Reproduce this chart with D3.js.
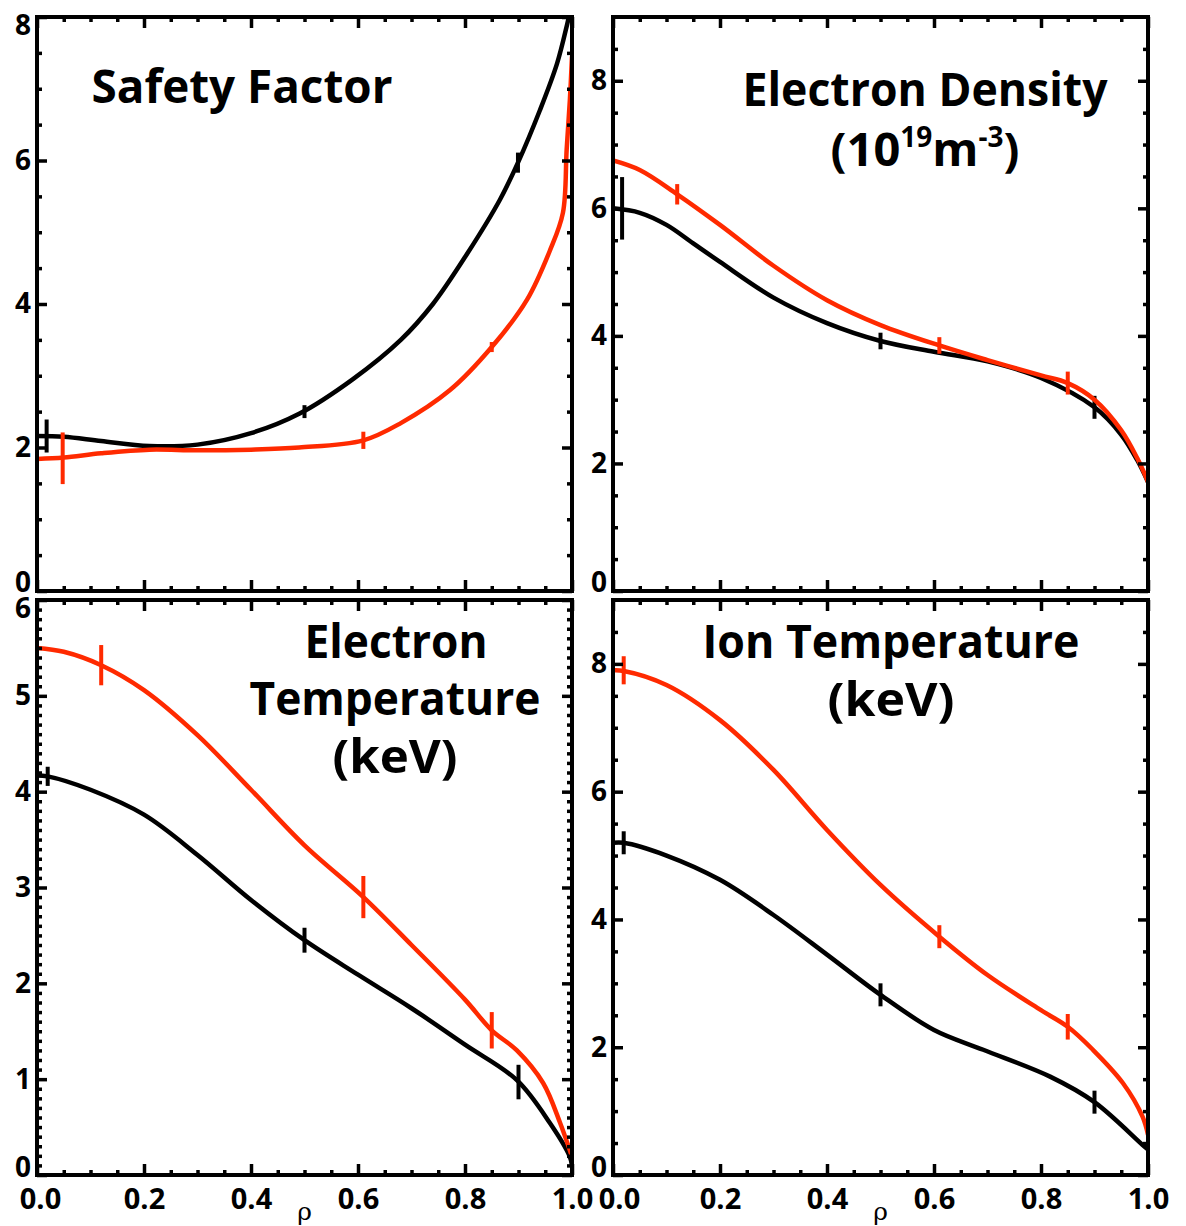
<!DOCTYPE html>
<html>
<head>
<meta charset="utf-8">
<script src="https://cdn.jsdelivr.net/npm/d3@7"></script>
<style>
  body { margin: 0; background: #fff; }
  svg text { font-family: "Open Sans", Lato, sans-serif; font-weight: 700; fill: #000; }
</style>
</head>
<body>
<div id="wrapper"></div>
<script>
// ---- data ----
// safety factor q
const qRhoBlack = [0, 0.05, 0.12, 0.21, 0.3, 0.4, 0.49, 0.59, 0.68, 0.74, 0.804, 0.865, 0.899, 0.94, 0.972, 0.991, 1.0]
const qBlack    = [2.16, 2.15, 2.09, 2.02, 2.04, 2.2, 2.47, 2.95, 3.5, 4.0, 4.7, 5.45, 5.97, 6.7, 7.35, 7.9, 8.2]
const qRhoRed   = [0, 0.05, 0.12, 0.21, 0.3, 0.4, 0.49, 0.61, 0.68, 0.772, 0.85, 0.916, 0.959, 0.983, 0.99, 0.996, 1.0]
const qRed      = [1.84, 1.86, 1.92, 1.97, 1.96, 1.97, 2.0, 2.1, 2.34, 2.8, 3.4, 4.06, 4.75, 5.27, 6.15, 6.84, 7.45]
// electron density
const neRhoBlack = [0, 0.05, 0.1, 0.15, 0.2, 0.3, 0.4, 0.5, 0.6, 0.7, 0.8, 0.9, 0.95, 0.98, 1.0]
const neBlack    = [6.0, 5.93, 5.74, 5.45, 5.16, 4.6, 4.2, 3.92, 3.75, 3.6, 3.34, 2.88, 2.45, 2.05, 1.71]
const neRhoRed   = [0, 0.05, 0.12, 0.2, 0.3, 0.4, 0.5, 0.61, 0.7, 0.8, 0.85, 0.9, 0.95, 0.98, 1.0]
const neRed      = [6.75, 6.6, 6.22, 5.74, 5.1, 4.56, 4.17, 3.85, 3.62, 3.38, 3.26, 3.0, 2.52, 2.08, 1.71]
// electron temperature
const teRhoBlack = [0, 0.02, 0.1, 0.2, 0.3, 0.4, 0.5, 0.6, 0.7, 0.8, 0.897, 0.959, 0.996, 1.0]
const teBlack    = [4.17, 4.16, 4.02, 3.76, 3.34, 2.87, 2.45, 2.09, 1.74, 1.36, 0.99, 0.54, 0.19, 0.1]
const teRhoRed   = [0, 0.05, 0.12, 0.2, 0.3, 0.4, 0.5, 0.61, 0.7, 0.8, 0.85, 0.897, 0.946, 0.978, 1.0]
const teRed      = [5.5, 5.46, 5.32, 5.06, 4.59, 4.02, 3.44, 2.9, 2.4, 1.83, 1.51, 1.3, 0.96, 0.54, 0.19]
// ion temperature
const tiRhoBlack = [0, 0.02, 0.1, 0.2, 0.3, 0.4, 0.5, 0.6, 0.692, 0.817, 0.9, 0.99, 1.0]
const tiBlack    = [5.2, 5.2, 5.0, 4.62, 4.07, 3.45, 2.82, 2.27, 1.96, 1.54, 1.14, 0.47, 0.4]
const tiRhoRed   = [0, 0.02, 0.1, 0.2, 0.3, 0.4, 0.5, 0.61, 0.7, 0.8, 0.85, 0.897, 0.953, 0.99, 1.0]
const tiRed      = [7.9, 7.89, 7.67, 7.12, 6.34, 5.4, 4.54, 3.73, 3.13, 2.58, 2.32, 1.96, 1.44, 0.91, 0.63]

// error bars: [rho, value, half width]
const qErrBlack  = [[0.018, 2.16, 0.23], [0.5, 2.5, 0.09], [0.899, 5.97, 0.14]]
const qErrRed    = [[0.048, 1.85, 0.36], [0.61, 2.1, 0.12], [0.85, 3.4, 0.07]]
const neErrBlack = [[0.017, 6.0, 0.49], [0.5, 3.92, 0.13], [0.9, 2.88, 0.18]]
const neErrRed   = [[0.12, 6.22, 0.16], [0.61, 3.85, 0.13], [0.85, 3.26, 0.18]]
const teErrBlack = [[0.02, 4.16, 0.1], [0.5, 2.45, 0.13], [0.9, 0.97, 0.18]]
const teErrRed   = [[0.12, 5.32, 0.21], [0.61, 2.9, 0.22], [0.85, 1.51, 0.19]]
const tiErrBlack = [[0.02, 5.2, 0.18], [0.5, 2.82, 0.18], [0.9, 1.14, 0.18]]
const tiErrRed   = [[0.02, 7.9, 0.22], [0.61, 3.73, 0.18], [0.85, 2.32, 0.2]]

// axis ticks
const xMajor = [0, 0.2, 0.4, 0.6, 0.8, 1.0]
const xMinor = d3.range(0, 21).map(i => i * 0.05).filter(v => Math.round(v * 100) % 20 !== 0)

// titles
const qTitle  = ["Safety Factor"]
const neTitle = ["Electron Density", "(10|19|m|-3|)"]
const teTitle = ["Electron", "Temperature", "(keV)"]
const tiTitle = ["Ion Temperature", "(keV)"]

const BLACK = "#000000"
const RED = "#ff2a00"

const zip = (xs, ys) => xs.map((r, i) => ({ rho: r, v: ys[i] }))

const panels = [
  { left: 37, right: 572, top: 17, bottom: 591, yMax: 8, yMajor: [0, 2, 4, 6, 8], yMinorStep: 0.5,
    black: zip(qRhoBlack, qBlack), red: zip(qRhoRed, qRed), errBlack: qErrBlack, errRed: qErrRed,
    title: qTitle, titlePos: [[242, 103, 301]], xLabels: false, col: 0 },
  { left: 613, right: 1148, top: 17, bottom: 591, yMax: 9, yMajor: [0, 2, 4, 6, 8], yMinorStep: 0.5,
    black: zip(neRhoBlack, neBlack), red: zip(neRhoRed, neRed), errBlack: neErrBlack, errRed: neErrRed,
    title: neTitle, titlePos: [[925, 106, 365], [925, 166, 0]], xLabels: false, col: 1 },
  { left: 37, right: 572, top: 600, bottom: 1175, yMax: 6, yMajor: [0, 1, 2, 3, 4, 5, 6], yMinorStep: 0.1,
    black: zip(teRhoBlack, teBlack), red: zip(teRhoRed, teRed), errBlack: teErrBlack, errRed: teErrRed,
    title: teTitle, titlePos: [[396, 658, 183], [395, 715, 291], [395, 773, 125]], xLabels: true, col: 0 },
  { left: 613, right: 1148, top: 600, bottom: 1175, yMax: 9, yMajor: [0, 2, 4, 6, 8], yMinorStep: 0.5,
    black: zip(tiRhoBlack, tiBlack), red: zip(tiRhoRed, tiRed), errBlack: tiErrBlack, errRed: tiErrRed,
    title: tiTitle, titlePos: [[891, 658, 377], [891, 716, 127]], xLabels: true, col: 1 },
]

const width = 1186
const height = 1226

const svg = d3.select("#wrapper")
  .append("svg")
    .attr("width", width)
    .attr("height", height)

panels.forEach((p, i) => drawPanel(p, i))

function drawPanel(p, idx) {
  const xScale = d3.scaleLinear().domain([0, 1]).range([p.left, p.right])
  const yScale = d3.scaleLinear().domain([0, p.yMax]).range([p.bottom, p.top])

  const g = svg.append("g")

  // clip
  svg.append("clipPath")
    .attr("id", "clip" + idx)
    .append("rect")
      .attr("x", p.left).attr("y", p.top)
      .attr("width", p.right - p.left).attr("height", p.bottom - p.top)

  // titles
  p.title.forEach((line, j) => {
    const [cx, base, w] = p.titlePos[j]
    const t = g.append("text")
      .attr("x", cx)
      .attr("y", base)
      .attr("text-anchor", "middle")
      .attr("font-size", 47)
    if (line.includes("|")) {
      const parts = line.split("|")
      parts.forEach((s, k) => {
        const ts = t.append("tspan").text(s)
        if (k % 2 === 1) ts.attr("font-size", 28).attr("dy", -19)
        else if (k > 0) ts.attr("dy", 19)
      })
    } else {
      t.text(line)
      if (w) t.attr("textLength", w).attr("lengthAdjust", "spacingAndGlyphs")
    }
  })

  // curves
  const line = d3.line()
    .x(d => xScale(d.rho))
    .y(d => yScale(d.v))
    .curve(d3.curveCatmullRom.alpha(0.5))

  const curves = g.append("g").attr("clip-path", `url(#clip${idx})`)
  const drawSeries = (data, errs, color) => {
    curves.append("path")
      .datum(data)
      .attr("d", line)
      .attr("fill", "none")
      .attr("stroke", color)
      .attr("stroke-width", 4.5)
      .attr("stroke-linejoin", "round")
    curves.selectAll(null)
      .data(errs)
      .enter()
      .append("line")
        .attr("x1", d => xScale(d[0]))
        .attr("x2", d => xScale(d[0]))
        .attr("y1", d => yScale(d[1] - d[2]))
        .attr("y2", d => yScale(d[1] + d[2]))
        .attr("stroke", color)
        .attr("stroke-width", 4)
  }
  drawSeries(p.black, p.errBlack, BLACK)
  drawSeries(p.red, p.errRed, RED)

  // ticks
  const yMinor = d3.range(0, Math.round(p.yMax / p.yMinorStep) + 1)
    .map(k => +(k * p.yMinorStep).toFixed(2))
    .filter(v => !p.yMajor.includes(v) && v < p.yMax)

  const axes = g.append("g").attr("class", "axes")
  const addAxis = (axis, transform) => axes.append("g").attr("transform", transform).call(axis)

  addAxis(d3.axisBottom(xScale).tickValues(xMinor).tickSize(-5).tickFormat(""), `translate(0,${p.bottom})`)
  addAxis(d3.axisTop(xScale).tickValues(xMinor).tickSize(-5).tickFormat(""), `translate(0,${p.top})`)
  addAxis(d3.axisTop(xScale).tickValues(xMajor).tickSize(-11).tickFormat(""), `translate(0,${p.top})`)
  const xb = addAxis(d3.axisBottom(xScale).tickValues(xMajor).tickSize(-11).tickPadding(13)
      .tickFormat(p.xLabels ? d3.format(".1f") : ""), `translate(0,${p.bottom})`)
  xb.selectAll("text")
    .attr("font-size", 29)
    .attr("transform", d => d === 0 ? `translate(${p.col ? 6 : 3},0)` : null)

  addAxis(d3.axisLeft(yScale).tickValues(yMinor).tickSize(-5).tickFormat(""), `translate(${p.left},0)`)
  addAxis(d3.axisRight(yScale).tickValues(yMinor).tickSize(-5).tickFormat(""), `translate(${p.right},0)`)
  addAxis(d3.axisRight(yScale).tickValues(p.yMajor).tickSize(-10).tickFormat(""), `translate(${p.right},0)`)
  const yl = addAxis(d3.axisLeft(yScale).tickValues(p.yMajor).tickSize(-10).tickPadding(6)
      .tickFormat(d3.format("d")), `translate(${p.left},0)`)
  yl.selectAll("text")
    .attr("font-size", 28)
    .attr("transform", d => d === 0 ? `translate(0,${p.xLabels ? -7 : -8})` : (d === p.yMax ? "translate(0,9)" : null))

  axes.selectAll(".domain").remove()
  axes.selectAll(".tick line")
    .attr("stroke", "#000")
    .attr("stroke-width", 3.5)

  // frame
  g.append("rect")
    .attr("x", p.left).attr("y", p.top)
    .attr("width", p.right - p.left).attr("height", p.bottom - p.top)
    .attr("fill", "none")
    .attr("stroke", "#000")
    .attr("stroke-width", 4)

  // rho label
  if (p.xLabels) {
    g.append("text")
      .attr("x", xScale(0.5))
      .attr("y", 1220)
      .attr("text-anchor", "middle")
      .attr("font-size", 25)
      .style("font-family", "'DejaVu Serif', 'Liberation Serif', serif")
      .style("font-weight", 400)
      .text("ρ")
  }
}
</script>
</body>
</html>
